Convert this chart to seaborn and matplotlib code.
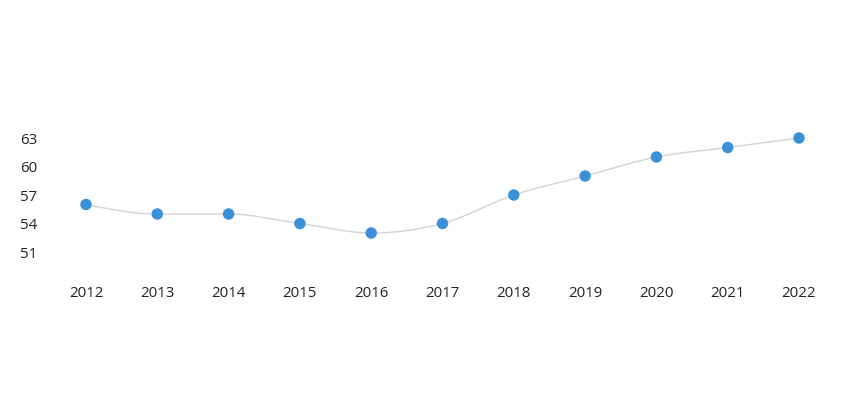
import numpy as np
import pandas as pd
import matplotlib
matplotlib.use("Agg")
import matplotlib.pyplot as plt
from matplotlib.path import Path
from matplotlib.patches import PathPatch
import seaborn as sns

years = ["2012", "2013", "2014", "2015", "2016", "2017", "2018", "2019", "2020", "2021", "2022"]
values = [56, 55, 55, 54, 53, 54, 57, 59, 61, 62, 63]
yticks = [51, 54, 57, 60, 63]

sns.set_theme(style="white")
plt.rcParams['font.family'] = ['Open Sans', 'DejaVu Sans']

W, H = 845, 396
fig = plt.figure(figsize=(W / 100, H / 100), dpi=100)
left_px, right_px = 50.35, 834.65
top_px, bot_px = 109.5, 280.5
ax = fig.add_axes([left_px / W, 1 - bot_px / H, (right_px - left_px) / W, (bot_px - top_px) / H])

df = pd.DataFrame({"year": years, "value": values})
df["x"] = np.arange(len(years))

# smooth line (monotone cubic, like d3 curveMonotoneX) through the data points
x = df["x"].to_numpy(dtype=float)
y = df["value"].to_numpy(dtype=float)
n = len(x)
h = np.diff(x)
d = np.diff(y) / h
m = np.zeros(n)
for i in range(1, n - 1):
    p = (d[i - 1] * h[i] + d[i] * h[i - 1]) / (h[i - 1] + h[i])
    m[i] = (np.sign(d[i - 1]) + np.sign(d[i])) * min(abs(d[i - 1]), abs(d[i]), 0.5 * abs(p))
m[0] = (3 * d[0] - m[1]) / 2
m[-1] = (3 * d[-1] - m[-2]) / 2
verts = [(x[0], y[0])]
codes = [Path.MOVETO]
for i in range(n - 1):
    dx = h[i] / 3
    verts += [(x[i] + dx, y[i] + m[i] * dx), (x[i + 1] - dx, y[i + 1] - m[i + 1] * dx), (x[i + 1], y[i + 1])]
    codes += [Path.CURVE4] * 3
ax.add_patch(PathPatch(Path(verts, codes), facecolor="none", edgecolor="#d4d4d4", lw=1.0, zorder=1))

sns.scatterplot(data=df, x="x", y="value", ax=ax, color="#3b91d8", s=68, edgecolor="none", zorder=3, legend=False)

ax.set_xlim(-0.5, 10.5)
ax.set_ylim(48, 66)
ax.set_xticks(df["x"])
ax.set_xticklabels(years)
ax.set_yticks(yticks)
ax.set_yticklabels([str(t) for t in yticks])
ax.set_xlabel("")
ax.set_ylabel("")
ax.tick_params(axis="both", length=0, labelsize=10.8, colors="#222222")
ax.tick_params(axis="x", pad=4)
ax.tick_params(axis="y", pad=(left_px - 20) * 0.72)
for lab in ax.get_yticklabels():
    lab.set_horizontalalignment("left")
for s in ax.spines.values():
    s.set_visible(False)
ax.grid(False)
ax.set_facecolor("white")
fig.patch.set_facecolor("white")

fig.savefig("out.png", dpi=100)
